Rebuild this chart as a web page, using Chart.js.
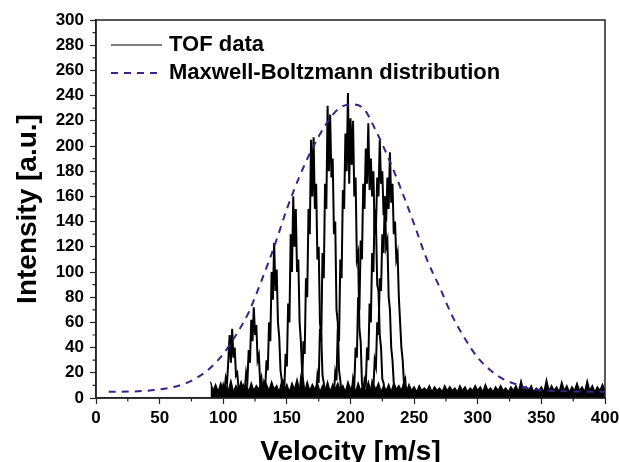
<!DOCTYPE html>
<html>
<head>
<meta charset="utf-8">
<script src="https://cdn.jsdelivr.net/npm/chart.js@4.4.0/dist/chart.umd.min.js"></script>
<style>
    body { margin: 0; background: #ffffff; }
    canvas { display: block; }
</style>
</head>
<body>
<canvas id="tofChart" width="620" height="462"></canvas>
<script>
// axis ranges
const velocityRange = [0, 400];
const intensityRange = [0, 300];

// Maxwell-Boltzmann fit (dashed)
const mbVelocity = [10, 20, 30, 40, 50, 60, 70, 80, 90, 100, 110, 120, 130, 140, 150, 160, 170, 180, 190, 200,
    210, 220, 230, 240, 250, 260, 270, 280, 290, 300, 310, 320, 330, 340, 350, 360, 370, 380, 390, 400];
const mbIntensity = [5, 5, 5.2, 5.8, 6.8, 8.5, 11.5, 16.5, 24, 35, 50, 68, 93, 120, 150, 176, 198, 216, 229, 233,
    230, 212, 190, 165, 138, 110, 88, 65, 47, 32, 22, 15, 11, 7.5, 6.3, 5.6, 5.3, 5.1, 5, 5];

// TOF baseline noise, sampled every 2 m/s from 90 m/s
const noiseStart = 90;
const noiseStep = 2;
const noiseLevels = [
    13, 6, 11, 5, 12, 7, 10, 6, 14, 5,
    10, 6, 13, 7, 11, 5, 12, 6, 10, 7,
    12, 5, 11, 6, 13, 7, 10, 5, 14, 6,
    11, 5, 12, 7, 15, 6, 10, 5, 13, 6,
    11, 7, 12, 5, 10, 6, 13, 5, 11, 7,
    12, 6, 10, 5, 13, 7, 11, 5, 12, 6,
    10, 5, 13, 6, 11, 7, 12, 5, 10, 6,
    11, 5, 12, 7, 10, 6, 13, 5, 11, 6,
    9, 5, 10, 6, 8, 6, 10, 5, 9, 6,
    8, 5, 10, 6, 9, 6, 8, 5, 10, 6,
    9, 5, 8, 6, 10, 6, 9, 5, 11, 6,
    8, 5, 9, 6, 10, 6, 8, 5, 9, 6,
    10, 5, 14, 6, 9, 6, 10, 5, 8, 6,
    9, 5, 15, 6, 10, 6, 9, 5, 13, 6,
    10, 5, 9, 6, 12, 6, 9, 5, 14, 6,
    10, 5, 9, 6, 11, 6
];

// TOF peaks, one per trace, sampled every 1 m/s from the start velocity
const tofStep = 1;
const tofStarts = [99, 115, 131, 146, 160, 173, 187, 201, 210, 216];
const tofPeaks = [
    [4, 10, 6, 16, 12, 30, 50, 28, 55, 32, 40, 18, 20, 8, 3],
    [3, 9, 6, 20, 14, 38, 28, 62, 45, 72, 50, 58, 30, 34, 12, 16, 4],
    [4, 12, 8, 30, 22, 60, 45, 100, 78, 123, 85, 102, 60, 48, 22, 14, 3],
    [3, 12, 8, 35, 25, 75, 60, 130, 100, 160, 120, 150, 100, 110, 60, 45, 20, 12, 3],
    [4, 15, 10, 45, 35, 95, 80, 150, 130, 205, 160, 207, 150, 170, 110, 120, 60, 50, 18, 12, 3],
    [4, 18, 12, 55, 45, 115, 95, 170, 150, 232, 180, 225, 175, 190, 130, 140, 70, 60, 22, 14, 3],
    [4, 20, 14, 55, 45, 110, 95, 165, 150, 210, 180, 242, 170, 222, 185, 220, 160, 175, 110, 115, 55, 45, 12, 3],
    [4, 15, 10, 40, 32, 80, 70, 125, 110, 170, 150, 198, 170, 218, 165, 190, 160, 180, 130, 140, 90, 85, 50, 40, 15, 12, 4, 2],
    [4, 14, 10, 40, 30, 75, 60, 115, 100, 150, 135, 175, 160, 205, 170, 180, 145, 160, 120, 125, 80, 70, 40, 30, 12, 8, 3],
    [4, 12, 8, 30, 25, 60, 50, 95, 85, 130, 115, 160, 140, 175, 150, 195, 155, 170, 130, 140, 110, 115, 80, 60, 40, 30, 12, 15, 3]
];

const mbColor = "#3a2289";
const axisColor = "#222222";

function sampled(start, step, values) {
    return values.map(function (v, i) {
        return { x: start + i * step, y: v };
    });
}

const datasets = [];
datasets.push({
    label: "Maxwell-Boltzmann distribution",
    data: mbVelocity.map(function (v, i) { return { x: v, y: mbIntensity[i] }; }),
    borderColor: mbColor,
    borderWidth: 2,
    borderDash: [7, 6],
    pointRadius: 0,
    fill: false,
    cubicInterpolationMode: "monotone",
});
datasets.push({
    label: "TOF data",
    data: sampled(noiseStart, noiseStep, noiseLevels),
    borderColor: "#000000",
    backgroundColor: "#000000",
    borderWidth: 1.2,
    pointRadius: 0,
    fill: "origin",
});
tofPeaks.forEach(function (peak, i) {
    datasets.push({
        label: "TOF peak " + (i + 1),
        data: sampled(tofStarts[i], tofStep, peak),
        borderColor: "#000000",
        borderWidth: 2,
        pointRadius: 0,
        fill: false,
    });
});

// box frame, minor ticks and the in-plot legend
const framePlugin = {
    id: "framePlugin",
    afterDraw: function (chart) {
        const ctx = chart.ctx;
        const a = chart.chartArea;
        const xs = chart.scales.x;
        const ys = chart.scales.y;
        ctx.save();
        ctx.strokeStyle = axisColor;
        ctx.lineWidth = 1.5;
        ctx.strokeRect(a.left, a.top, a.right - a.left, a.bottom - a.top);

        ctx.lineWidth = 1.2;
        ctx.beginPath();
        for (let v = 25; v < velocityRange[1]; v += 50) {
            const px = xs.getPixelForValue(v);
            ctx.moveTo(px, a.bottom);
            ctx.lineTo(px, a.bottom + 3.5);
        }
        for (let v = 10; v < intensityRange[1]; v += 20) {
            const py = ys.getPixelForValue(v);
            ctx.moveTo(a.left, py);
            ctx.lineTo(a.left - 3.5, py);
        }
        ctx.stroke();

        // legend
        ctx.lineWidth = 1.2;
        ctx.strokeStyle = "#000000";
        ctx.beginPath();
        ctx.moveTo(111, 45);
        ctx.lineTo(162, 45);
        ctx.stroke();
        ctx.strokeStyle = mbColor;
        ctx.lineWidth = 2;
        ctx.setLineDash([7, 6]);
        ctx.beginPath();
        ctx.moveTo(111, 73);
        ctx.lineTo(162, 73);
        ctx.stroke();
        ctx.setLineDash([]);
        ctx.fillStyle = "#000000";
        ctx.font = "bold 22px 'Liberation Sans', Arial, sans-serif";
        ctx.textBaseline = "middle";
        ctx.textAlign = "left";
        ctx.fillText("TOF data", 169, 45);
        ctx.fillText("Maxwell-Boltzmann distribution", 169, 73);
        ctx.restore();
    },
};

Chart.defaults.font.family = "'Liberation Sans', Arial, sans-serif";
Chart.defaults.color = "#000000";

const ctx = document.getElementById("tofChart").getContext("2d");
const tofChart = new Chart(ctx, {
    type: "line",
    data: { datasets: datasets },
    options: {
        responsive: false,
        animation: false,
        events: [],
        layout: {
            padding: { top: 20, right: 15, left: 0, bottom: 0 },
        },
        plugins: {
            legend: { display: false },
            tooltip: { enabled: false },
        },
        scales: {
            x: {
                type: "linear",
                min: velocityRange[0],
                max: velocityRange[1],
                ticks: {
                    stepSize: 50,
                    maxRotation: 0,
                    padding: 4,
                    font: { size: 17, weight: "bold" },
                },
                grid: {
                    drawOnChartArea: false,
                    tickLength: 6,
                    tickWidth: 1.2,
                    tickColor: axisColor,
                },
                border: { color: axisColor, width: 1.5 },
                title: {
                    display: true,
                    text: "Velocity [m/s]",
                    font: { size: 28, weight: "bold", lineHeight: 1 },
                    padding: { top: 0, bottom: -4 },
                },
                afterFit: function (scale) {
                    scale.height = 64;
                    scale.paddingLeft = 0;
                    scale.paddingRight = 0;
                },
            },
            y: {
                min: intensityRange[0],
                max: intensityRange[1],
                ticks: {
                    stepSize: 20,
                    padding: 6,
                    font: { size: 17, weight: "bold" },
                },
                grid: {
                    drawOnChartArea: false,
                    tickLength: 6,
                    tickWidth: 1.2,
                    tickColor: axisColor,
                },
                border: { color: axisColor, width: 1.5 },
                title: {
                    display: true,
                    text: "Intensity [a.u.]",
                    font: { size: 28, weight: "bold", lineHeight: 1 },
                    padding: { top: 14, bottom: 0 },
                },
                afterFit: function (scale) {
                    scale.width = 96;
                    scale.paddingTop = 0;
                    scale.paddingBottom = 0;
                },
            },
        },
    },
    plugins: [framePlugin],
});
</script>
</body>
</html>
